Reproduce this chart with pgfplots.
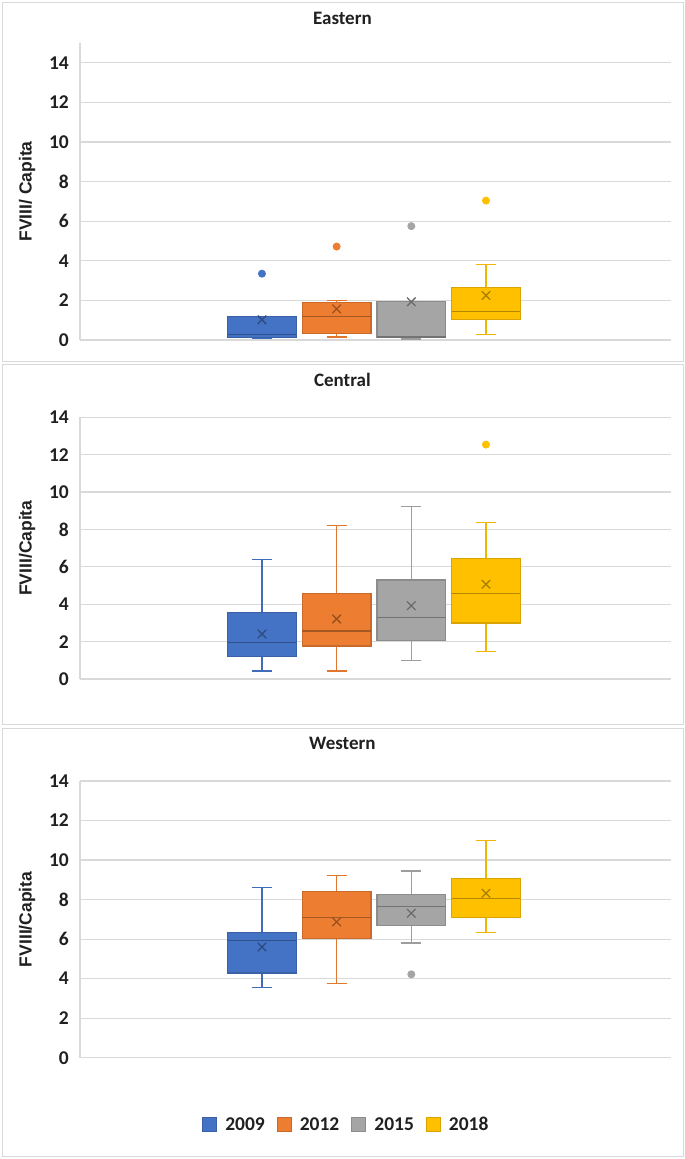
\documentclass[border=0pt]{standalone}
\usepackage{fontspec}
\setmainfont{Carlito}
\newfontfamily\arialfont{Liberation Sans}
\usepackage{pgfplots}
\pgfplotsset{compat=1.18}
\usepgfplotslibrary{statistics}
\definecolor{cBlue}{HTML}{4472C4}
\definecolor{cOrange}{HTML}{ED7D31}
\definecolor{cGray}{HTML}{A5A5A5}
\definecolor{cGold}{HTML}{FFC000}
\definecolor{gridc}{HTML}{D9D9D9}
\definecolor{txt}{HTML}{202020}

\pgfplotsset{
  panel/.style={
    scale only axis, width=591pt,
    xmin=-1.437, xmax=6.478, ymin=0,
    axis x line=none, axis y line=left,
    y axis line style={draw=gridc, line width=1.2pt, -},
    ytick={0,2,...,14},
    ymajorgrids, grid style={draw=gridc, line width=1.2pt},
    major tick length=0pt,
    /pgf/number format/assume math mode=true,
    yticklabel style={font=\bfseries\fontsize{19.5}{21}\selectfont, text=txt, inner xsep=0pt, xshift=-11pt},
    title style={font=\bfseries\fontsize{19}{21}\selectfont, text=txt, anchor=center},
    ylabel style={font=\arialfont\bfseries\fontsize{17.5}{20}\selectfont, text=txt, anchor=center},
    boxplot/draw direction=y,
    boxplot/box extend=0.92,
    boxplot/whisker extend=0.27,
  },
  bx/.style={
    solid, line width=1.3pt,
    fill=#1, draw=#1!85!black,
    boxplot/every box/.style={fill=#1, draw=#1!85!black},
    boxplot/every whisker/.style={draw=#1!95!black},
    boxplot/every median/.style={draw=#1!70!black, line width=1.3pt},
    mark=*, mark size=3.3pt, mark options={fill=#1, draw=#1, solid},
    legend image code/.code={\draw[fill=#1, draw=#1!85!black, line width=1pt] (0pt,-7pt) rectangle (14pt,7pt);},
  },
  mn/.style={only marks, mark=x, mark size=6pt, mark options={draw=#1!65!black, line width=1.3pt}, forget plot},
}

\begin{document}
\begin{tikzpicture}
\fill[white] (0pt,0pt) rectangle (685pt,-1159pt);
\path[use as bounding box] (0pt,0pt) rectangle (685pt,-1159pt);
\draw[gridc, line width=1pt] (2.5pt,-2pt) rectangle (683pt,-361.5pt);
\draw[gridc, line width=1pt] (2.5pt,-364.5pt) rectangle (683pt,-724pt);
\draw[gridc, line width=1pt] (2.5pt,-728pt) rectangle (683pt,-1156pt);

% ---------------- Eastern ----------------
\begin{axis}[panel, at={(80pt,-340pt)}, anchor=south west,
  height=297pt, ymax=15,
  title={Eastern}, title style={at={(axis description cs:0.444,1.064)}},
  ylabel={FVIII/ Capita}, ylabel style={at={(axis description cs:-0.0897,0.5)}}]
\addplot[bx=cBlue, boxplot prepared={draw position=1, lower whisker=0.07, lower quartile=0.14, median=0.29, upper quartile=1.18, upper whisker=1.18}]
  table[row sep=\\, y index=0] {y\\ 3.35\\};
\addplot[mn=cBlue] coordinates {(1,1.02)};
\addplot[bx=cOrange, boxplot prepared={draw position=2, lower whisker=0.15, lower quartile=0.32, median=1.17, upper quartile=1.91, upper whisker=2.0}]
  table[row sep=\\, y index=0] {y\\ 4.72\\};
\addplot[mn=cOrange] coordinates {(2,1.57)};
\addplot[bx=cGray, boxplot prepared={draw position=3, lower whisker=0.05, lower quartile=0.14, median=0.15, upper quartile=1.93, upper whisker=1.93}]
  table[row sep=\\, y index=0] {y\\ 5.75\\};
\addplot[mn=cGray] coordinates {(3,1.93)};
\addplot[bx=cGold, boxplot prepared={draw position=4, lower whisker=0.27, lower quartile=1.03, median=1.44, upper quartile=2.66, upper whisker=3.82}]
  table[row sep=\\, y index=0] {y\\ 7.04\\};
\addplot[mn=cGold] coordinates {(4,2.25)};
\end{axis}

% ---------------- Central ----------------
\begin{axis}[panel, at={(80pt,-679pt)}, anchor=south west,
  height=261.7pt, ymax=14,
  title={Central}, title style={at={(axis description cs:0.444,1.120)}},
  ylabel={FVIII/Capita}, ylabel style={at={(axis description cs:-0.0897,0.5)}}]
\addplot[bx=cBlue, boxplot prepared={draw position=1, lower whisker=0.43, lower quartile=1.21, median=1.94, upper quartile=3.56, upper whisker=6.38}]
  coordinates {};
\addplot[mn=cBlue] coordinates {(1,2.41)};
\addplot[bx=cOrange, boxplot prepared={draw position=2, lower whisker=0.43, lower quartile=1.76, median=2.57, upper quartile=4.57, upper whisker=8.23}]
  coordinates {};
\addplot[mn=cOrange] coordinates {(2,3.21)};
\addplot[bx=cGray, boxplot prepared={draw position=3, lower whisker=0.99, lower quartile=2.06, median=3.28, upper quartile=5.29, upper whisker=9.22}]
  coordinates {};
\addplot[mn=cGray] coordinates {(3,3.92)};
\addplot[bx=cGold, boxplot prepared={draw position=4, lower whisker=1.49, lower quartile=3.0, median=4.57, upper quartile=6.44, upper whisker=8.39}]
  table[row sep=\\, y index=0] {y\\ 12.54\\};
\addplot[mn=cGold] coordinates {(4,5.07)};
\end{axis}

% ---------------- Western ----------------
\begin{axis}[panel, at={(80pt,-1057.7pt)}, anchor=south west,
  height=276.7pt, ymax=14,
  title={Western}, title style={at={(axis description cs:0.444,1.116)}},
  ylabel={FVIII/Capita}, ylabel style={at={(axis description cs:-0.0897,0.5)}},
  legend style={at={(axis description cs:0.449,-0.243)}, anchor=center, legend columns=4,
    draw=none, fill=none, font=\bfseries\fontsize{19.5}{21}\selectfont, text=txt,
    nodes={inner xsep=0pt},
    /tikz/every odd column/.append style={column sep=8pt},
    /tikz/every even column/.append style={column sep=12pt}}]
\addplot[bx=cBlue, boxplot prepared={draw position=1, lower whisker=3.54, lower quartile=4.29, median=5.94, upper quartile=6.33, upper whisker=8.6}]
  coordinates {};
\addlegendentry{2009}
\addplot[mn=cBlue] coordinates {(1,5.6)};
\addplot[bx=cOrange, boxplot prepared={draw position=2, lower whisker=3.74, lower quartile=6.02, median=7.11, upper quartile=8.4, upper whisker=9.23}]
  coordinates {};
\addlegendentry{2012}
\addplot[mn=cOrange] coordinates {(2,6.87)};
\addplot[bx=cGray, boxplot prepared={draw position=3, lower whisker=5.8, lower quartile=6.7, median=7.64, upper quartile=8.25, upper whisker=9.44}]
  table[row sep=\\, y index=0] {y\\ 4.22\\};
\addlegendentry{2015}
\addplot[mn=cGray] coordinates {(3,7.31)};
\addplot[bx=cGold, boxplot prepared={draw position=4, lower whisker=6.34, lower quartile=7.11, median=8.06, upper quartile=9.08, upper whisker=11.0}]
  coordinates {};
\addlegendentry{2018}
\addplot[mn=cGold] coordinates {(4,8.32)};
\end{axis}
\end{tikzpicture}
\end{document}
